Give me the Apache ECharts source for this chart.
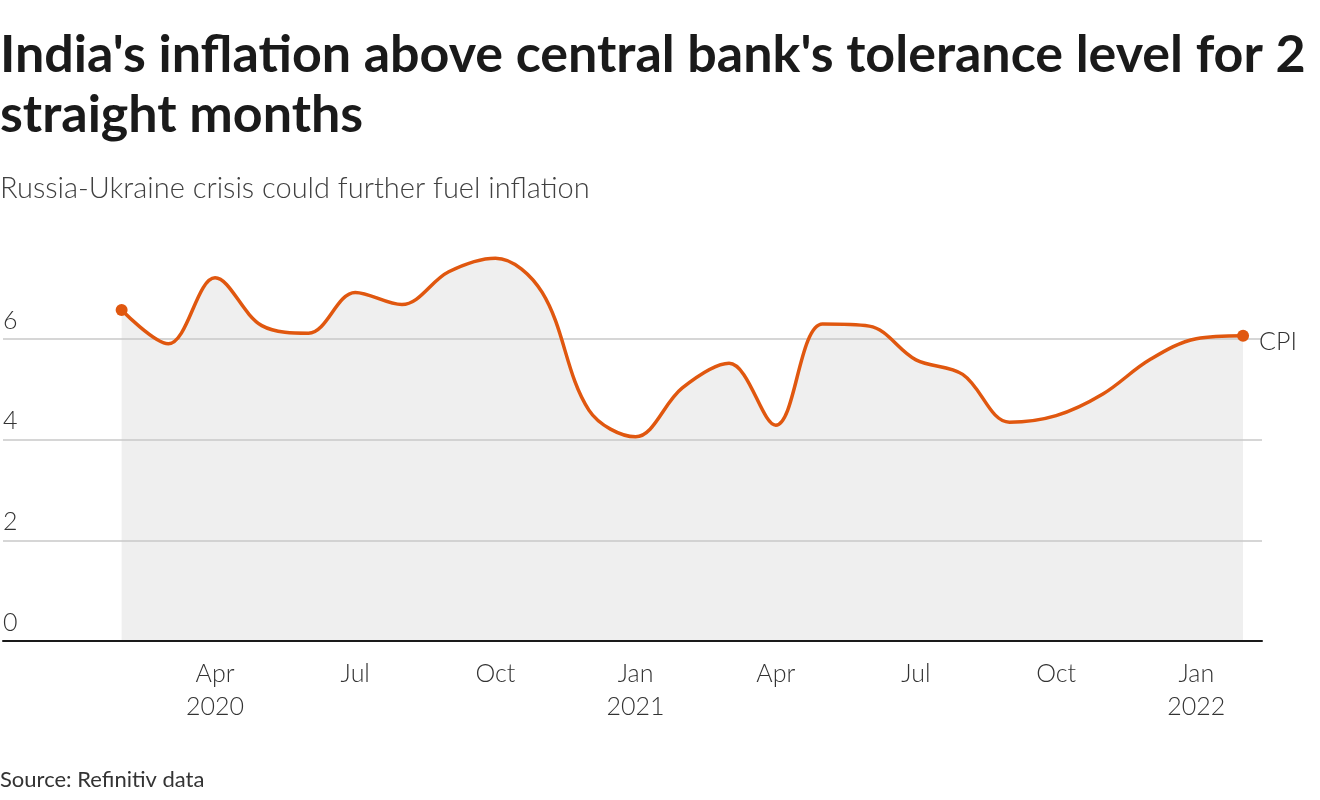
<!DOCTYPE html>
<html>
<head>
<meta charset="utf-8">
<script src="https://cdn.jsdelivr.net/npm/echarts@6/dist/echarts.min.js"></script>
<style>
html,body{margin:0;padding:0;background:#fff;}
#c{width:1320px;height:800px;}
</style>
</head>
<body>
<div id="c"></div>
<script>
// Monthly CPI inflation (%), Feb 2020 .. Feb 2022
const months = ['2020-02','2020-03','2020-04','2020-05','2020-06','2020-07','2020-08','2020-09','2020-10','2020-11','2020-12',
  '2021-01','2021-02','2021-03','2021-04','2021-05','2021-06','2021-07','2021-08','2021-09','2021-10','2021-11','2021-12',
  '2022-01','2022-02'];
const cpi = [6.58,5.91,7.22,6.27,6.12,6.93,6.69,7.34,7.61,6.93,4.59,
  4.06,5.03,5.52,4.29,6.30,6.26,5.59,5.30,4.35,4.48,4.91,5.59,
  6.01,6.07];
const xTickMonths = ['2020-04','2020-07','2020-10','2021-01','2021-04','2021-07','2021-10','2022-01'];
const xTickLabels = ['Apr\n2020','Jul','Oct','Jan\n2021','Apr','Jul','Oct','Jan\n2022'];
const yTicks = [0,2,4,6];

const FONT = 'Lato';
const pts = cpi.map((v,i)=>[i,v]);
const tickIdx = xTickMonths.map(m=>months.indexOf(m));

const chart = echarts.init(document.getElementById('c'), null, {renderer:'canvas'});
chart.setOption({
  animation:false,
  textStyle:{fontFamily:FONT},
  title:[
    {text:"India's inflation above central bank's tolerance level for 2\nstraight months",left:0,top:25,padding:0,
     textStyle:{fontFamily:FONT,fontWeight:'bold',fontSize:52,lineHeight:60,color:'#1a1a1a'}},
    {text:'Russia-Ukraine crisis could further fuel inflation',left:0,top:174,padding:0,
     textStyle:{fontFamily:FONT,fontWeight:300,fontSize:29,color:'#404040'}},
    {text:'Source: Refinitiv data',left:0,top:769,padding:0,
     textStyle:{fontFamily:FONT,fontWeight:'normal',fontSize:22,color:'#333'}}
  ],
  grid:{left:0,right:58,top:238.6,bottom:159,containLabel:false},
  xAxis:{type:'value',min:-119/46.875,max:24+19/46.875,z:4,
    axisLine:{show:true,onZero:false,lineStyle:{color:'#1a1a1a',width:2}},
    axisTick:{show:false},splitLine:{show:false},
    axisLabel:{customValues:tickIdx,margin:16,fontSize:25,lineHeight:33,color:'#333',fontWeight:300,fontFamily:FONT,
      formatter:(v)=>{const k=tickIdx.indexOf(Math.round(v));return k>=0?xTickLabels[k]:'';}}
  },
  yAxis:{type:'value',min:0,max:8,interval:2,z:2,
    axisLine:{show:false},axisTick:{show:false},
    splitLine:{show:true,lineStyle:{color:['#c8c8c8','#c8c8c8','#c8c8c8','#c8c8c8','rgba(0,0,0,0)'],width:1.5}},
    axisLabel:{inside:true,showMaxLabel:false,margin:0,align:'left',verticalAlign:'bottom',padding:[0,0,6,0],
      fontSize:25,color:'#333',fontWeight:300,fontFamily:FONT,
      formatter:(v)=>yTicks.indexOf(v)>=0?String(v):''}
  },
  series:[
    {type:'line',data:pts,smooth:0.35,z:1,showSymbol:false,silent:true,
     lineStyle:{width:0,opacity:0},areaStyle:{color:'#efefef',opacity:1}},
    {type:'line',data:pts,smooth:0.35,z:3,
     symbol:'circle',showSymbol:true,
     symbolSize:(val,params)=>(params.dataIndex===0||params.dataIndex===cpi.length-1)?12:0,
     itemStyle:{color:'#e0570f'},
     lineStyle:{color:'#e0570f',width:3.5},
     endLabel:{show:true,formatter:'CPI',fontSize:25,color:'#333',fontWeight:300,fontFamily:FONT,distance:16,offset:[0,6]}
    }
  ]
});
</script>
</body>
</html>
